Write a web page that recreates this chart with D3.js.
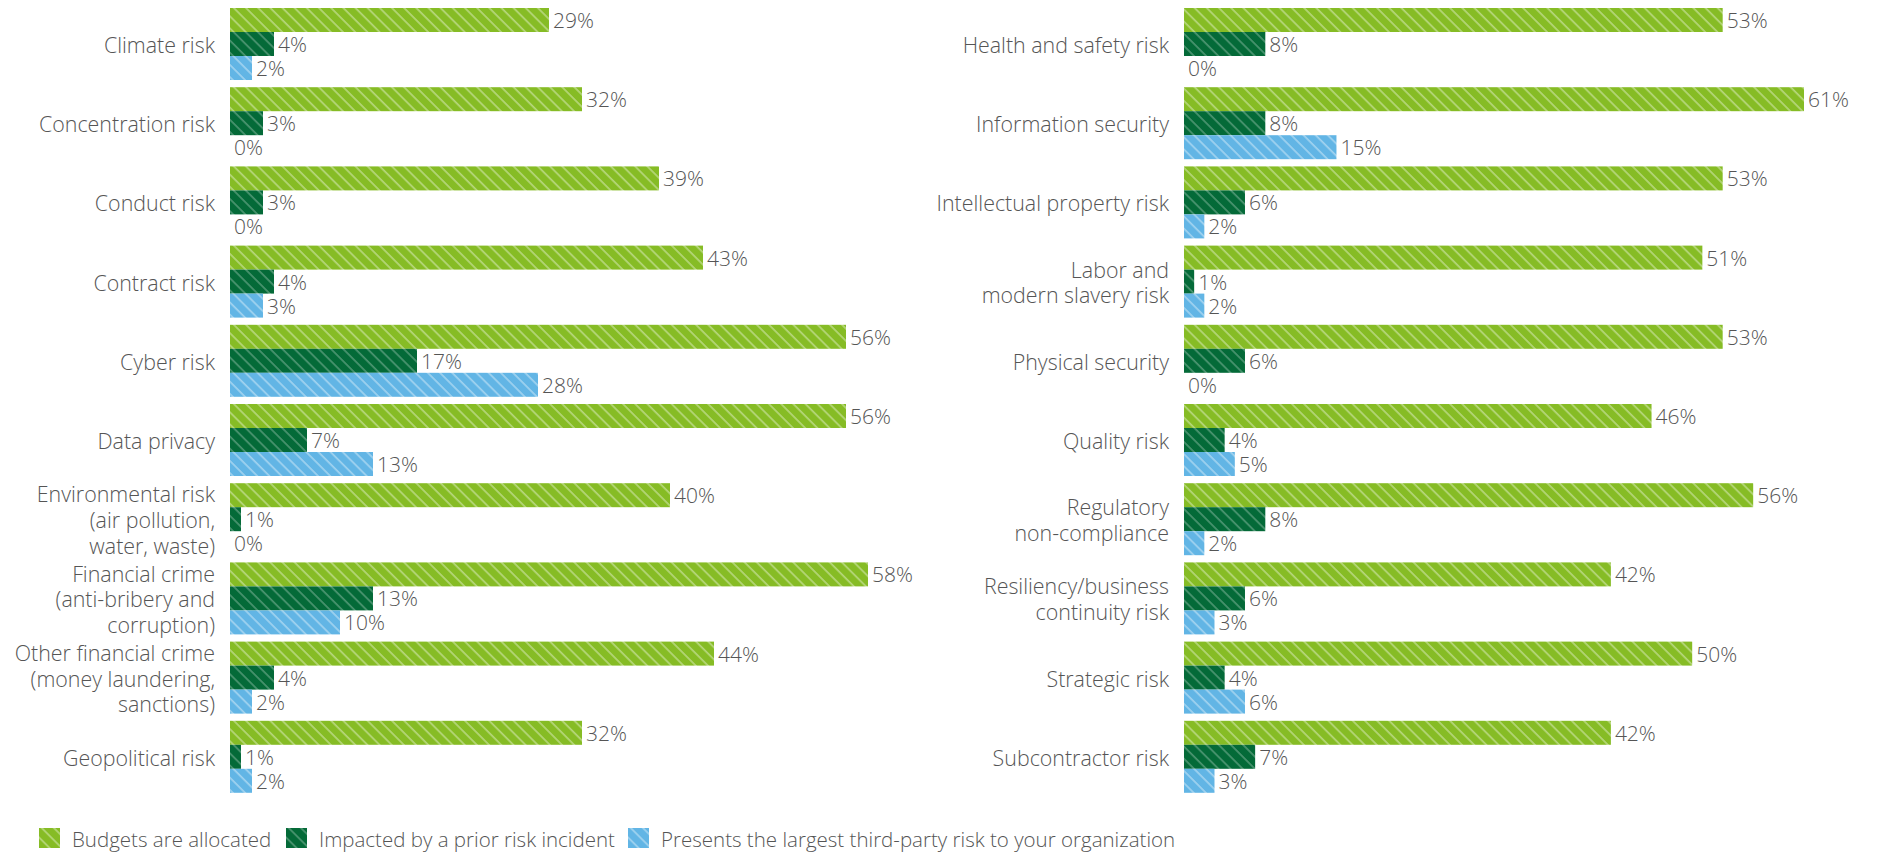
<!DOCTYPE html>
<html>
<head>
<meta charset="utf-8">
<script src="https://cdn.jsdelivr.net/npm/d3@7"></script>
<style>
  html, body { margin: 0; padding: 0; background: #fff; }
  svg { display: block; font-family: "Open Sans", "Noto Sans", sans-serif; font-weight: 300; }
  .cat { fill: #555; font-size: 21.4px; }
  .val { fill: #555; font-size: 21px; }
  .leg { fill: #555; font-size: 20.5px; }
</style>
</head>
<body>
<svg id="chart" width="1881" height="854"></svg>
<script>
// Series shown for each risk type
const seriesNames = [
  "Budgets are allocated",
  "Impacted by a prior risk incident",
  "Presents the largest third-party risk to your organization"
];
const seriesColors = ["#86BC25", "#046A38", "#62B5E5"];

// Left column
const leftCategories = [
  "Climate risk",
  "Concentration risk",
  "Conduct risk",
  "Contract risk",
  "Cyber risk",
  "Data privacy",
  "Environmental risk\n(air pollution,\nwater, waste)",
  "Financial crime\n(anti-bribery and\ncorruption)",
  "Other financial crime\n(money laundering,\nsanctions)",
  "Geopolitical risk"
];
const leftBudgets  = [29, 32, 39, 43, 56, 56, 40, 58, 44, 32];
const leftImpacted = [4, 3, 3, 4, 17, 7, 1, 13, 4, 1];
const leftLargest  = [2, 0, 0, 3, 28, 13, 0, 10, 2, 2];

// Right column
const rightCategories = [
  "Health and safety risk",
  "Information security",
  "Intellectual property risk",
  "Labor and\nmodern slavery risk",
  "Physical security",
  "Quality risk",
  "Regulatory\nnon-compliance",
  "Resiliency/business\ncontinuity risk",
  "Strategic risk",
  "Subcontractor risk"
];
const rightBudgets  = [53, 61, 53, 51, 53, 46, 56, 42, 50, 42];
const rightImpacted = [8, 8, 6, 1, 6, 4, 8, 6, 4, 7];
const rightLargest  = [0, 15, 2, 2, 0, 5, 2, 3, 6, 3];

const svg = d3.select("#chart");

// Diagonal white hatching laid over each colour
const defs = svg.append("defs");
seriesColors.forEach((c, i) => {
  const p = defs.append("pattern")
    .attr("id", "hatch" + i)
    .attr("patternUnits", "userSpaceOnUse")
    .attr("width", 8.6).attr("height", 8.6)
    .attr("patternTransform", "rotate(-45)");
  p.append("rect").attr("width", 8.6).attr("height", 8.6).attr("fill", c);
  p.append("line")
    .attr("x1", 2).attr("y1", 0).attr("x2", 2).attr("y2", 8.6)
    .attr("stroke", "#fff").attr("stroke-opacity", i === 1 ? 0.3 : 0.42)
    .attr("stroke-width", 1.6);
});

function drawPanel(categories, values, labelRight, barLeft, barSpan) {
  const rows = categories.map((name, i) => ({
    name,
    vals: values.map(v => v[i])
  }));

  const y = d3.scaleBand()
    .domain(d3.range(categories.length))
    .range([4.4, 796.4])
    .paddingInner(0.0909)
    .paddingOuter(0.04545);

  const ySub = d3.scaleBand()
    .domain(d3.range(values.length))
    .range([0, y.bandwidth()]);

  const maxVal = d3.max(values, v => d3.max(v));
  const x = d3.scaleLinear().domain([0, maxVal]).range([0, barSpan]);

  const g = svg.append("g");
  const groups = g.selectAll("g.grp").data(rows).join("g")
    .attr("class", "grp")
    .attr("transform", (d, i) => `translate(0,${y(i)})`);

  // Category labels, centred on each group
  groups.each(function (d) {
    const lines = d.name.split("\n");
    const lh = 25.8;
    const cy = y.bandwidth() / 2;
    const t = d3.select(this).append("text")
      .attr("class", "cat")
      .attr("text-anchor", "end")
      .attr("dominant-baseline", "central");
    lines.forEach((ln, k) => {
      t.append("tspan")
        .attr("x", labelRight)
        .attr("y", cy + (k - (lines.length - 1) / 2) * lh)
        .text(ln);
    });
  });

  // Bars
  groups.selectAll("rect.bar")
    .data(d => d.vals.map((v, s) => ({ v, s })))
    .join("rect")
    .attr("class", "bar")
    .attr("x", barLeft)
    .attr("y", d => ySub(d.s))
    .attr("width", d => x(d.v))
    .attr("height", ySub.bandwidth())
    .attr("fill", d => `url(#hatch${d.s})`);

  // Value labels
  groups.selectAll("text.val")
    .data(d => d.vals.map((v, s) => ({ v, s })))
    .join("text")
    .attr("class", "val")
    .attr("x", d => barLeft + x(d.v) + 4)
    .attr("y", d => ySub(d.s) + ySub.bandwidth() / 2)
    .attr("dominant-baseline", "central")
    .text(d => d.v + "%");
}

drawPanel(leftCategories, [leftBudgets, leftImpacted, leftLargest], 215, 230, 638);
drawPanel(rightCategories, [rightBudgets, rightImpacted, rightLargest], 1169, 1184, 620);

// Legend along the bottom
const legendOffsets = [0, 247, 589];
const legend = svg.append("g").attr("transform", "translate(39,828)");
seriesNames.forEach((name, i) => {
  const item = legend.append("g").attr("transform", `translate(${legendOffsets[i]},0)`);
  item.append("rect")
    .attr("width", 21).attr("height", 20)
    .attr("fill", `url(#hatch${i})`);
  item.append("text")
    .attr("class", "leg")
    .attr("x", 33).attr("y", 10.5)
    .attr("dominant-baseline", "central")
    .text(name);
});
</script>
</body>
</html>
